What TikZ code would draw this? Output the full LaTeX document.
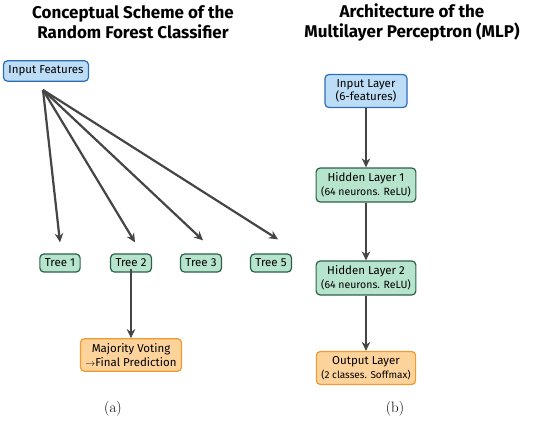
\documentclass[tikz,border=0pt]{standalone}
\usepackage{fontspec}
\setsansfont{Fira Sans}
\usetikzlibrary{arrows.meta}
\definecolor{inblue}{HTML}{BDDDF7}
\definecolor{inblueline}{HTML}{2D6DB3}
\definecolor{treegreen}{HTML}{B7E4CC}
\definecolor{treeline}{HTML}{2C5F4A}
\definecolor{outorange}{HTML}{FDD39C}
\definecolor{outline}{HTML}{F29A2E}
\definecolor{arrowgray}{HTML}{454545}

\begin{document}
\begin{tikzpicture}[x=1pt, y=-1pt, font=\sffamily\fontsize{11.5}{13.5}\selectfont,
  >={Stealth[length=9pt, width=8.5pt]},
  inbox/.style={draw=inblueline, fill=inblue, line width=1.2pt, rounded corners=4pt, inner xsep=5pt, inner ysep=5pt, align=center},
  greenbox/.style={draw=treeline, fill=treegreen, line width=1.2pt, rounded corners=4pt, inner xsep=5pt, inner ysep=5pt, align=center},
  orangebox/.style={draw=outline, fill=outorange, line width=1.2pt, rounded corners=4pt, inner xsep=5pt, inner ysep=5pt, align=center},
  layer/.style={minimum width=99pt},
  flow/.style={->, line width=2.2pt, draw=arrowgray},
  heading/.style={font=\sffamily\bfseries\fontsize{17}{20}\selectfont, align=center},
  caption/.style={font=\rmfamily\fontsize{15}{17}\selectfont}]
\useasboundingbox (0,0) rectangle (550,422);
% titles
\node[heading] (ttlA) at (133,22) {Conceptual Scheme of the\\Random Forest Classifier};
\node[heading] (ttlB) at (412,22) {Architecture of the\\Multilayer Perceptron (MLP)};
% random forest
\node[inbox] (feat) at (46,71) {Input Features};
\coordinate (src) at (43,90);
\node[greenbox] (t1) at (60,263) {Tree 1};
\node[greenbox] (t2) at (131,263) {Tree 2};
\node[greenbox] (t3) at (201,263) {Tree 3};
\node[greenbox] (t5) at (271,263) {Tree 5};
\draw[flow] (src) -- ([yshift=11pt]t1.north);
\draw[flow] (src) -- ([xshift=4pt, yshift=11pt]t2.north);
\draw[flow] (src) -- ([xshift=2pt, yshift=13pt]t3.north);
\draw[flow] (src) -- ([xshift=7pt, yshift=14pt]t5.north);
\node[orangebox] (vote) at (131,355) {Majority Voting\\{\fontsize{10}{12}\selectfont$\rightarrow$}Final Prediction};
\draw[flow] ([yshift=4pt]t2.south) -- (vote.north);
% MLP
\node[inbox, minimum width=82pt] (lin) at (366,91) {Input Layer\\(6-features)};
\node[greenbox, layer] (h1) at (366,185) {Hidden Layer 1\\{\fontsize{10.5}{12.5}\selectfont(64 neurons. ReLU)}};
\node[greenbox, layer] (h2) at (366,278) {Hidden Layer 2\\{\fontsize{10.5}{12.5}\selectfont(64 neurons. ReLU)}};
\node[orangebox, layer] (lout) at (366,368) {Output Layer\\{\fontsize{10}{12}\selectfont(2 classes. Soffmax)}};
\draw[flow] (lin) -- (h1);
\draw[flow] (h1) -- (h2);
\draw[flow] (h2) -- (lout);
% captions
\node[caption] (capA) at (113,409) {(a)};
\node[caption] (capB) at (395,409) {(b)};
\end{tikzpicture}
\end{document}
